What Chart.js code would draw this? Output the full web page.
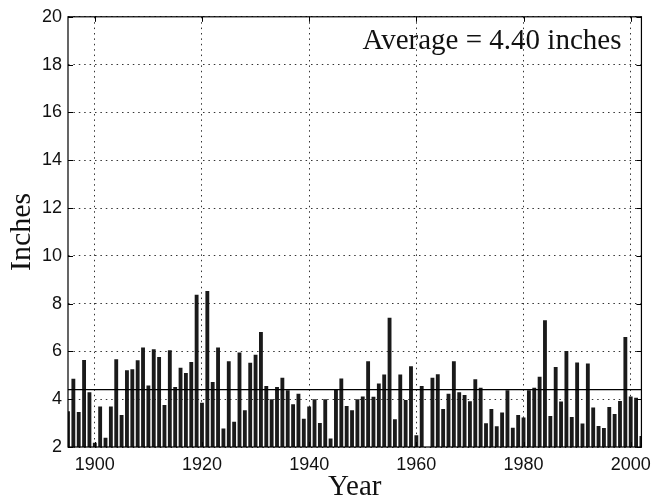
<!DOCTYPE html>
<html>
<head>
<meta charset="utf-8">
<script src="https://cdn.jsdelivr.net/npm/chart.js@4"></script>
<style>
  html, body { margin: 0; padding: 0; background: #fff; }
  #wrap { width: 658px; height: 500px; }
</style>
</head>
<body>
<div id="wrap"><canvas id="rainChart" width="658" height="500"></canvas></div>
<script>
// yearly rainfall
const years = [];
for (let y = 1895; y <= 2002; y++) years.push(y);

const inches = [
    3.50, 4.86, 3.46, 5.64, 4.29, 2.18, 3.69, 2.39, 3.69, 5.67,   // 1895-1904
    3.34, 5.21, 5.25, 5.63, 6.16, 4.57, 6.09, 5.77, 3.76, 6.05,   // 1905-1914
    4.51, 5.32, 5.10, 5.56, 8.37, 3.85, 8.53, 4.72, 6.16, 2.77,   // 1915-1924
    5.59, 3.06, 5.95, 3.54, 5.53, 5.86, 6.81, 4.55, 4.00, 4.51,   // 1925-1934
    4.90, 4.37, 3.79, 4.23, 3.18, 3.69, 4.00, 3.00, 4.00, 2.36,   // 1935-1944
    4.41, 4.87, 3.72, 3.54, 4.00, 4.11, 5.59, 4.10, 4.66, 5.03,   // 1945-1954
    7.41, 3.16, 5.03, 3.97, 5.38, 2.49, 4.55, 2.00, 4.90, 5.04,   // 1955-1964
    3.59, 4.23, 5.59, 4.29, 4.18, 3.91, 4.83, 4.48, 2.99, 3.59,   // 1965-1974
    2.87, 3.44, 4.37, 2.81, 3.34, 3.23, 4.37, 4.48, 4.94, 7.30,   // 1975-1984
    3.30, 5.35, 3.90, 6.02, 3.26, 5.54, 2.98, 5.49, 3.65, 2.88,   // 1985-1994
    2.80, 3.67, 3.38, 3.92, 6.60, 4.11, 4.06, 2.46                // 1995-2002
];

const average = 4.40;
const xRange = [1895, 2002];
const xTicks = [1900, 1920, 1940, 1960, 1980, 2000];
const yTicks = [2, 4, 6, 8, 10, 12, 14, 16, 18, 20];

const sansFont = "'Liberation Sans', Arial, sans-serif";
const serifFont = "'Liberation Serif', 'Times New Roman', serif";

// box around the plot, inward tick marks, and the average label
const boxAndLabel = {
    id: 'boxAndLabel',
    afterDatasetsDraw(chart) {
        const { ctx, chartArea: a, scales } = chart;
        const tick = 5;
        ctx.save();
        ctx.strokeStyle = '#000';
        ctx.lineWidth = 1.2;
        ctx.strokeRect(a.left, a.top, a.right - a.left, a.bottom - a.top);

        ctx.lineWidth = 1;
        ctx.beginPath();
        xTicks.forEach(v => {
            const px = Math.round(scales.x.getPixelForValue(v)) + 0.5;
            ctx.moveTo(px, a.bottom); ctx.lineTo(px, a.bottom - tick);
            ctx.moveTo(px, a.top); ctx.lineTo(px, a.top + tick);
        });
        yTicks.forEach(v => {
            const py = Math.round(scales.y.getPixelForValue(v)) + 0.5;
            ctx.moveTo(a.left, py); ctx.lineTo(a.left + tick, py);
            ctx.moveTo(a.right, py); ctx.lineTo(a.right - tick, py);
        });
        ctx.stroke();

        ctx.font = '29px ' + serifFont;
        ctx.fillStyle = '#111';
        ctx.textAlign = 'right';
        ctx.textBaseline = 'alphabetic';
        ctx.fillText('Average = ' + average.toFixed(2) + ' inches', a.right - 20, a.top + 32);
        ctx.restore();
    }
};

const ctx = document.getElementById('rainChart');
new Chart(ctx, {
    type: 'bar',
    data: {
        datasets: [
            {
                type: 'line',
                label: 'Average',
                data: [{ x: xRange[0], y: average }, { x: xRange[1], y: average }],
                borderColor: '#000',
                borderWidth: 1.4,
                pointRadius: 0,
                clip: 0,
                order: 0
            },
            {
                label: 'Inches',
                data: years.map((y, i) => ({ x: y, y: inches[i] })),
                backgroundColor: '#1a1a1a',
                borderWidth: 0,
                categoryPercentage: 1,
                barPercentage: 0.72,
                clip: 0,
                order: 1
            }
        ]
    },
    options: {
        responsive: false,
        animation: false,
        layout: { padding: { top: 15, right: 14, left: 0, bottom: 0 } },
        plugins: { legend: { display: false }, tooltip: { enabled: false } },
        scales: {
            x: {
                type: 'linear',
                min: xRange[0],
                max: xRange[1],
                offset: false,
                afterBuildTicks: s => { s.ticks = xTicks.map(v => ({ value: v })); },
                afterFit: s => { s.height = 53; },
                grid: { offset: false, color: '#333', lineWidth: 1, drawTicks: false },
                border: { display: false, dash: [1.5, 3.9] },
                ticks: {
                    color: '#111', font: { family: sansFont, size: 18 }, padding: 7, maxRotation: 0,
                    callback: v => String(v)
                },
                title: { display: true, text: 'Year', color: '#111', font: { family: serifFont, size: 29, lineHeight: 0.9 }, padding: 0 }
            },
            y: {
                min: 2,
                max: 20,
                afterBuildTicks: s => { s.ticks = yTicks.map(v => ({ value: v })); },
                afterFit: s => { s.width = 68; },
                grid: { color: '#333', lineWidth: 1, drawTicks: false },
                border: { display: false, dash: [1.5, 3.9] },
                ticks: { color: '#111', font: { family: sansFont, size: 18 }, padding: 6 },
                title: { display: true, text: 'Inches', color: '#111', font: { family: serifFont, size: 30, lineHeight: 1 }, padding: { top: 7 } }
            }
        }
    },
    plugins: [boxAndLabel]
});
</script>
</body>
</html>
